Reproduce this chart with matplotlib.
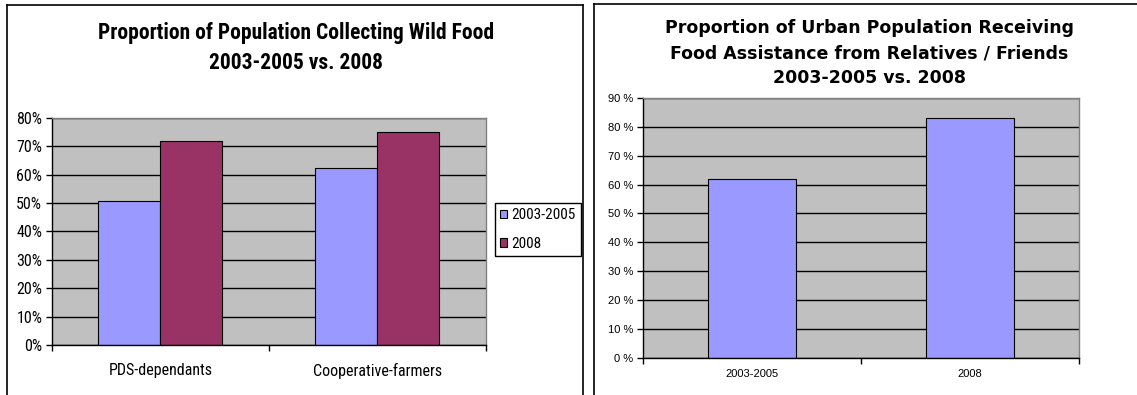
"""
Two bar charts side by side: wild food collection and food assistance
from relatives/friends, 2003-2005 vs. 2008. Saved to out.png.
"""

import matplotlib
matplotlib.use("Agg")
import matplotlib.pyplot as plt
from matplotlib import font_manager
from matplotlib.lines import Line2D

# --- Data ---
wild_groups = ["PDS-dependants", "Cooperative-farmers"]
wild_2003_2005 = [50.7, 62.2]
wild_2008 = [71.8, 75.0]
wild_series = ["2003-2005", "2008"]
wild_yticks = [0, 10, 20, 30, 40, 50, 60, 70, 80]
wild_ylabels = ["0%", "10%", "20%", "30%", "40%", "50%", "60%", "70%", "80%"]

urban_periods = ["2003-2005", "2008"]
urban_values = [61.8, 82.9]
urban_yticks = [0, 10, 20, 30, 40, 50, 60, 70, 80, 90]
urban_ylabels = ["0 %", "10 %", "20 %", "30 %", "40 %", "50 %", "60 %", "70 %", "80 %", "90 %"]

LIGHT = "#9999FF"
DARK = "#993366"
PLOT_BG = "#C0C0C0"

W, H = 1137, 395

# narrow face for the left chart; fall back to a scaled regular face
installed = {f.name for f in font_manager.fontManager.ttflist}
NARROW, SCALE = "Liberation Sans", 0.82
for name in ("Liberation Sans Narrow", "Roboto Condensed", "Open Sans Condensed"):
    if name in installed:
        NARROW, SCALE = name, 1.0
        break


def box(x0, y0, x1, y1):
    # pixel box (top-left origin) -> figure fraction rect
    return [x0 / W, 1 - y1 / H, (x1 - x0) / W, (y1 - y0) / H]


def fx(x):
    return x / W


def fy(y):
    return 1 - y / H


def style_axes(ax, ncat, font, size, xpad):
    ax.set_facecolor(PLOT_BG)
    ax.set_axisbelow(True)
    ax.yaxis.grid(True, color="black", linewidth=1)
    for side in ("top", "right"):
        ax.spines[side].set_color("#808080")
        ax.spines[side].set_linewidth(1)
    for side in ("left", "bottom"):
        ax.spines[side].set_color("black")
        ax.spines[side].set_linewidth(1)
    ax.set_xlim(-0.5, ncat - 0.5)
    # ticks sit between categories, labels centred under them
    ax.set_xticks([i - 0.5 for i in range(ncat + 1)])
    ax.set_xticklabels([])
    ax.tick_params(axis="x", which="major", direction="out", length=4, width=1)
    ax.tick_params(axis="x", which="minor", length=0, pad=xpad)
    ax.tick_params(axis="y", direction="out", length=4, width=1, pad=3)
    for lbl in ax.get_yticklabels() + ax.get_xticklabels(minor=True):
        lbl.set_fontfamily(font)
        lbl.set_fontsize(size)


fig = plt.figure(figsize=(W / 100, H / 100), dpi=100)

# --- Panel frames ---
frame = dict(color="black", linewidth=1.2, transform=fig.transFigure)
fig.add_artist(Line2D([fx(7), fx(7)], [fy(5), 0], **frame))
fig.add_artist(Line2D([fx(7), fx(583)], [fy(5), fy(5)], **frame))
fig.add_artist(Line2D([fx(583), fx(583)], [fy(5), 0], **frame))
fig.add_artist(Line2D([fx(594), fx(594)], [fy(4), 0], **frame))
fig.add_artist(Line2D([fx(594), 1], [fy(4), fy(4)], **frame))

# --- Left: wild food ---
ax1 = fig.add_axes(box(52, 117.7, 485.7, 345))
bw = 0.286
x = range(len(wild_groups))
ax1.bar([i - bw / 2 for i in x], wild_2003_2005, width=bw, color=LIGHT,
        edgecolor="black", linewidth=0.8, label=wild_series[0])
ax1.bar([i + bw / 2 for i in x], wild_2008, width=bw, color=DARK,
        edgecolor="black", linewidth=0.8, label=wild_series[1])
ax1.set_ylim(0, 80)
ax1.set_yticks(wild_yticks)
ax1.set_yticklabels(wild_ylabels)
ax1.set_xticks(list(x), minor=True)
ax1.set_xticklabels(wild_groups, minor=True)
style_axes(ax1, len(wild_groups), NARROW, 11.5 * SCALE, 13)

fig.text(fx(296), fy(33), "Proportion of Population Collecting Wild Food",
         ha="center", va="center", fontfamily=NARROW, fontweight="bold",
         fontsize=15.5 * SCALE)
fig.text(fx(296), fy(63), "2003-2005 vs. 2008",
         ha="center", va="center", fontfamily=NARROW, fontweight="bold",
         fontsize=15.5 * SCALE)

leg = ax1.legend(loc="upper left", bbox_to_anchor=(fx(495), fy(203)),
                 bbox_transform=fig.transFigure, borderaxespad=0,
                 prop={"family": NARROW, "size": 11 * SCALE},
                 fancybox=False, framealpha=1, edgecolor="black",
                 handlelength=0.45, handleheight=0.45, handletextpad=0.25,
                 labelspacing=0.95, borderpad=0.35)
leg.get_frame().set_linewidth(1)

# --- Right: urban food assistance ---
ax2 = fig.add_axes(box(643, 98, 1079, 357.5))
bw2 = 0.404
ax2.bar(range(len(urban_periods)), urban_values, width=bw2, color=LIGHT,
        edgecolor="black", linewidth=0.8)
ax2.set_ylim(0, 90)
ax2.set_yticks(urban_yticks)
ax2.set_yticklabels(urban_ylabels)
ax2.set_xticks(range(len(urban_periods)), minor=True)
ax2.set_xticklabels(urban_periods, minor=True)
style_axes(ax2, len(urban_periods), "Liberation Sans", 8, 8)

for yy, line in zip((28, 53, 78), ("Proportion of Urban Population Receiving",
                                   "Food Assistance from Relatives / Friends",
                                   "2003-2005 vs. 2008")):
    fig.text(fx(869.5), fy(yy), line, ha="center", va="center",
             fontfamily="DejaVu Sans", fontweight="bold", fontsize=12.5)

fig.savefig("out.png", dpi=100)
